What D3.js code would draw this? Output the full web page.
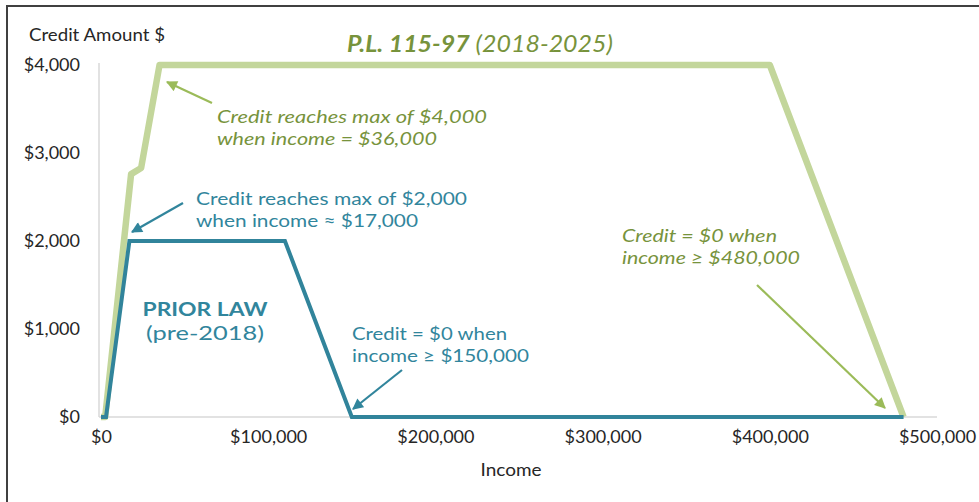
<!DOCTYPE html>
<meta charset="utf-8">
<script src="https://d3js.org/d3.v7.min.js"></script>
<style>
body { margin: 0; background: #fff; }
svg { display: block; }
text { font-family: Lato, "Open Sans", sans-serif; }
.tick text { font-size: 18px; fill: #262626; }
.axisTitle { fill: #262626; font-size: 17.5px; }
.greenNote { font-size: 18.2px; fill: #77933C; font-style: italic; }
.blueNote { font-size: 18.2px; fill: #31859C; }
</style>
<body>
<script>
// ---- DATA ----
// prior law (pre-2018) credit schedule: income, credit
const priorIncome = [0, 3000, 17000, 110000, 150000, 480000];
const priorCredit = [0, 0, 2000, 2000, 0, 0];
// P.L. 115-97 (2018-2025) credit schedule
const plIncome = [0, 2500, 18000, 24000, 35000, 400000, 480000];
const plCredit = [0, 0, 2760, 2830, 4000, 4000, 0];

const xTicks = [0, 100000, 200000, 300000, 400000, 500000];
const yTicks = [0, 1000, 2000, 3000, 4000];

// ---- LAYOUT ----
const width = 979, height = 502;
const plotLeft = 101, plotRight = 937, plotTop = 65, plotBottom = 417;

const greenLine = "#C3D69B", greenText = "#77933C", greenArrow = "#9BBB59";
const blueLine = "#31849B", blueText = "#31859C";

const x = d3.scaleLinear().domain([0, 500000]).range([plotLeft, plotRight]);
const y = d3.scaleLinear().domain([0, 4000]).range([plotBottom, plotTop]);
const money = d3.format("$,");

const svg = d3.select("body").append("svg")
  .attr("width", width)
  .attr("height", height);

// stretch a text to a given width (the original font is wider than Lato)
function fit(sel, w) {
  sel.attr("textLength", w).attr("lengthAdjust", "spacingAndGlyphs");
  return sel;
}

// chart frame
svg.append("path")
  .attr("d", "M7,510 V6 H990")
  .attr("fill", "none")
  .attr("stroke", "#404040")
  .attr("stroke-width", 2);

// arrow markers
const defs = svg.append("defs");
function marker(id, color) {
  defs.append("marker")
    .attr("id", id)
    .attr("viewBox", "0 0 10 10")
    .attr("refX", 9).attr("refY", 5)
    .attr("markerWidth", 5.5).attr("markerHeight", 5)
    .attr("markerUnits", "strokeWidth")
    .attr("orient", "auto")
    .append("path")
    .attr("d", "M0,0 L10,5 L0,10 Z")
    .attr("fill", color);
}
marker("arrowGreen", greenArrow);
marker("arrowBlue", blueText);

// ---- AXES ----
const xAxis = svg.append("g")
  .attr("transform", `translate(0,${plotBottom})`)
  .call(d3.axisBottom(x).tickValues(xTicks).tickFormat(money).tickSize(0).tickPadding(13));
xAxis.select(".domain").attr("stroke", "#D9D9D9").attr("stroke-width", 1.5)
  .attr("d", `M${plotLeft - 2},0H${plotRight}`);

const yAxis = svg.append("g")
  .attr("transform", `translate(${plotLeft - 2},0)`)
  .call(d3.axisLeft(y).tickValues(yTicks).tickFormat(money).tickSize(0).tickPadding(19));
yAxis.select(".domain").attr("stroke", "#D9D9D9").attr("stroke-width", 1.5)
  .attr("d", `M0,${plotTop - 2}V${plotBottom}`);

fit(svg.append("text")
  .attr("class", "axisTitle")
  .attr("x", 29).attr("y", 41)
  .text("Credit Amount $"), 136);

fit(svg.append("text")
  .attr("class", "axisTitle")
  .attr("x", 511).attr("y", 476)
  .attr("text-anchor", "middle")
  .text("Income"), 61);

// ---- LINES ----
const line = d3.line().x(d => x(d[0])).y(d => y(d[1]));

svg.append("path")
  .datum(d3.zip(plIncome, plCredit))
  .attr("d", line)
  .attr("fill", "none")
  .attr("stroke", greenLine)
  .attr("stroke-width", 6.5)
  .attr("stroke-linejoin", "round");

svg.append("path")
  .datum(d3.zip(priorIncome, priorCredit))
  .attr("d", line)
  .attr("fill", "none")
  .attr("stroke", blueLine)
  .attr("stroke-width", 4)
  .attr("stroke-linejoin", "miter");

// ---- TITLE / LABELS ----
const title = svg.append("text")
  .attr("x", 347).attr("y", 52)
  .attr("fill", greenText)
  .style("font-size", "23.5px")
  .style("font-style", "italic");
title.append("tspan").style("font-weight", "bold").text("P.L. 115-97");
title.append("tspan").text(" (2018-2025)");
fit(title, 266);

// one text per line, each stretched to the width it has in the original
function note(cls, x0, lines) {
  lines.forEach(l => fit(svg.append("text")
    .attr("class", cls)
    .attr("x", x0).attr("y", l.y)
    .text(l.t), l.w));
}
note("greenNote", 217, [
  {t: "Credit reaches max of $4,000", y: 123, w: 270},
  {t: "when income = $36,000", y: 145, w: 220}]);
note("greenNote", 622, [
  {t: "Credit = $0 when", y: 242, w: 155},
  {t: "income ≥ $480,000", y: 264, w: 178}]);
note("blueNote", 196, [
  {t: "Credit reaches max of $2,000", y: 205, w: 271},
  {t: "when income ≈ $17,000", y: 227, w: 222}]);
note("blueNote", 352, [
  {t: "Credit = $0 when", y: 340, w: 155},
  {t: "income ≥ $150,000", y: 362, w: 177}]);

fit(svg.append("text")
  .attr("x", 205).attr("y", 316)
  .attr("text-anchor", "middle")
  .attr("fill", blueText)
  .style("font-size", "19.8px")
  .style("font-weight", "bold")
  .text("PRIOR LAW"), 125);
fit(svg.append("text")
  .attr("x", 205).attr("y", 340)
  .attr("text-anchor", "middle")
  .attr("fill", blueText)
  .style("font-size", "19.8px")
  .text("(pre-2018)"), 118);

// ---- ARROWS ----
const arrows = [
  {from: [212, 103], to: [167, 82], color: greenArrow, m: "arrowGreen"},
  {from: [757, 285], to: [885, 408], color: greenArrow, m: "arrowGreen"},
  {from: [183, 203], to: [132, 232], color: blueText, m: "arrowBlue"},
  {from: [402, 370], to: [353, 409], color: blueText, m: "arrowBlue"}
];
svg.selectAll(".arrow").data(arrows).join("line")
  .attr("class", "arrow")
  .attr("x1", d => d.from[0]).attr("y1", d => d.from[1])
  .attr("x2", d => d.to[0]).attr("y2", d => d.to[1])
  .attr("stroke", d => d.color)
  .attr("stroke-width", 2.2)
  .attr("marker-end", d => `url(#${d.m})`);
</script>
</body>
